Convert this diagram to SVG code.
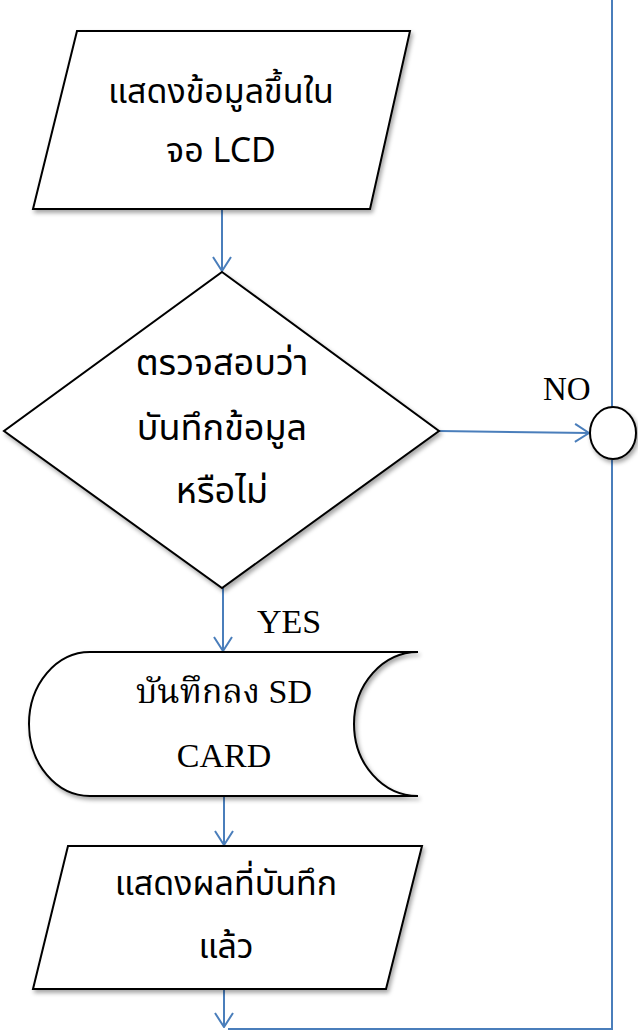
<svg xmlns="http://www.w3.org/2000/svg" width="638" height="1030" viewBox="0 0 638 1030">
<style>
.shape{fill:#ffffff;stroke:#000000;stroke-width:2;filter:url(#sh)}
.th{font-family:"Noto Sans","Noto Sans Thai","Liberation Sans",sans-serif;font-size:34px;fill:#000;text-anchor:middle}
.sr{font-family:"Liberation Serif","Noto Serif Thai","Noto Sans Thai",serif;font-size:34px;fill:#000;text-anchor:middle}
.conn{fill:none;stroke:#4a7ebb;stroke-width:2}
</style>
<defs>
<filter id="sh" x="-10%" y="-10%" width="130%" height="130%">
<feDropShadow dx="2" dy="3" stdDeviation="2" flood-color="#000" flood-opacity="0.35"/>
</filter>
<marker id="arr" viewBox="0 0 16 20" refX="15" refY="10" markerWidth="16" markerHeight="20" markerUnits="userSpaceOnUse" orient="auto">
<path d="M1,1 L15,10 L1,19" fill="none" stroke="#4a7ebb" stroke-width="2"/>
</marker>
</defs>
<g id="connectors">
<path class="conn" d="M222,209 V271" marker-end="url(#arr)"/>
<path class="conn" d="M223,588 V651" marker-end="url(#arr)"/>
<path class="conn" d="M224,796 V845" marker-end="url(#arr)"/>
<path class="conn" d="M224,990 V1027" marker-end="url(#arr)"/>
<path class="conn" d="M439,431 L589,433" marker-end="url(#arr)"/>
<path class="conn" d="M612,0 V407"/>
<path class="conn" d="M612,460 V1029 H228"/>
</g>
<g id="display-lcd">
<polygon class="shape" points="77,31 410,31 370,209 33,209"/>
<text class="th" x="221" y="103">แสดงข้อมูลขึ้นใน</text>
<text class="th" x="221" y="162">จอ LCD</text>
</g>
<g id="check-save">
<polygon class="shape" points="222,272 439,431 222,588 4,431"/>
<text class="th" x="222" y="375" style="font-size:36px">ตรวจสอบว่า</text>
<text class="th" x="222" y="440" style="font-size:36px">บันทึกข้อมูล</text>
<text class="th" x="222" y="503" style="font-size:36px">หรือไม่</text>
</g>
<g id="connector-circle">
<ellipse class="shape" cx="613" cy="433" rx="23" ry="26"/>
</g>
<g id="label-no">
<text class="sr" x="543" y="400" style="text-anchor:start;font-size:33px">NO</text>
</g>
<g id="label-yes">
<text class="sr" x="257" y="633" style="text-anchor:start">YES</text>
</g>
<g id="save-sd">
<path class="shape" d="M90,652 L418,652 A64,72 0 0 0 418,796 L90,796 A61,72 0 0 1 90,652 Z"/>
<text class="sr" x="224" y="703">บันทึกลง SD</text>
<text class="sr" x="224" y="767">CARD</text>
</g>
<g id="display-saved">
<polygon class="shape" points="68,846 422,846 386,989 33,989"/>
<text class="th" x="226" y="895">แสดงผลที่บันทึก</text>
<text class="th" x="226" y="958">แล้ว</text>
</g>
</svg>
